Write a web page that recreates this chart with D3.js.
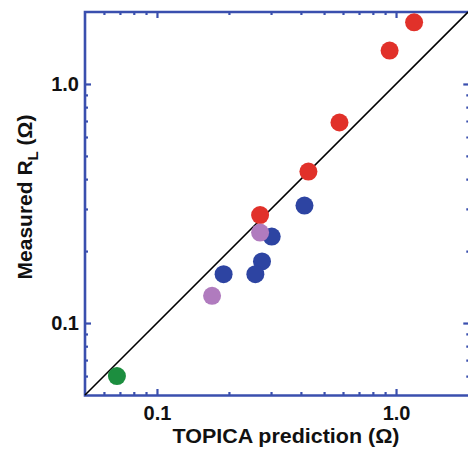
<!DOCTYPE html>
<html lang="en">
<head>
    <meta charset="UTF-8"/>
    <title>Measured vs TOPICA</title>
    <script src="https://d3js.org/d3.v7.min.js"></script>
    <style>
        body { margin: 0; background: #fff; }
        text { font-family: "Liberation Sans", Arial, sans-serif; font-weight: bold; fill: #111; }
    </style>
</head>
<body>
<script>
    // data (ohm)
    var redX = [1.19, 0.94, 0.58, 0.43, 0.27];
    var redY = [1.81, 1.38, 0.69, 0.43, 0.283];
    var blueX = [0.414, 0.302, 0.275, 0.258, 0.190];
    var blueY = [0.310, 0.230, 0.181, 0.160, 0.160];
    var purpleX = [0.270, 0.170];
    var purpleY = [0.239, 0.130];
    var greenX = [0.068];
    var greenY = [0.060];

    var majorTicks = [0.1, 1.0];
    var minorTicks = [0.06, 0.07, 0.08, 0.09, 0.2, 0.3, 0.4, 0.5, 0.6, 0.7, 0.8, 0.9];
    var tickLabels = ["0.1", "1.0"];

    var W = 468, H = 452;
    var pL = 85, pR = 468, pT = 12, pB = 395, spineR = 470.8;
    var axisColor = "#3a4fae";

    var x = d3.scaleLog().domain([0.05, 2]).range([pL, pR]);
    var y = d3.scaleLog().domain([0.05, 2]).range([pB, pT]);

    var svg = d3.select("body").append("svg")
        .attr("width", W)
        .attr("height", H);

    var fmt = function (d) { return tickLabels[majorTicks.indexOf(d)]; };

    function ticks(axisFn, scale, tr, labels, pad, extra) {
        var gMin = svg.append("g").attr("transform", tr)
            .call(axisFn(scale).tickValues(minorTicks).tickSize(-3 - extra).tickFormat(""));
        var gMaj = svg.append("g").attr("transform", tr)
            .call(axisFn(scale).tickValues(majorTicks).tickSize(-6 - extra)
                .tickPadding(pad)
                .tickFormat(labels ? fmt : ""));
        [gMin, gMaj].forEach(function (g) {
            g.select(".domain").remove();
            g.selectAll("line").attr("stroke", axisColor).attr("stroke-width", 2.2);
            g.selectAll("text").attr("font-size", 20).attr("font-family", null).attr("fill", null);
        });
    }

    ticks(d3.axisBottom, x, "translate(0," + pB + ")", true, 11, 0);
    ticks(d3.axisTop, x, "translate(0," + pT + ")", false, 0, 0);
    ticks(d3.axisLeft, y, "translate(" + pL + ",0)", true, 6, 0);
    ticks(d3.axisRight, y, "translate(" + spineR + ",0)", false, 0, 1.5);

    // spines (right one sits just past the picture edge)
    svg.append("path")
        .attr("d", "M" + pL + "," + (pB + 0.5) + "V" + pT + "H" + spineR + "V" + (pB + 0.5) + "Z")
        .attr("fill", "none")
        .attr("stroke", axisColor)
        .attr("stroke-width", 2.6);

    // 1:1 line
    svg.append("line")
        .attr("x1", x(0.05)).attr("y1", y(0.05))
        .attr("x2", x(2)).attr("y2", y(2))
        .attr("stroke", "#000")
        .attr("stroke-width", 1.6);

    function dots(xs, ys, color) {
        svg.append("g").selectAll("circle")
            .data(xs)
            .enter().append("circle")
            .attr("cx", function (d) { return x(d); })
            .attr("cy", function (d, i) { return y(ys[i]); })
            .attr("r", 9)
            .attr("fill", color);
    }
    dots(redX, redY, "#e1312a");
    dots(blueX, blueY, "#2d44a2");
    dots(purpleX, purpleY, "#b07bbe");
    dots(greenX, greenY, "#1c8e3f");

    // axis titles
    svg.append("text")
        .attr("x", 286).attr("y", 443)
        .attr("text-anchor", "middle")
        .attr("font-size", 21)
        .attr("textLength", 227)
        .attr("lengthAdjust", "spacingAndGlyphs")
        .text("TOPICA prediction (\u03A9)");

    var yt = svg.append("text")
        .attr("transform", "translate(32,197) rotate(-90)")
        .attr("text-anchor", "middle")
        .attr("font-size", 21);
    yt.append("tspan").text("Measured R");
    yt.append("tspan").attr("font-size", 15).attr("dy", 6).text("L");
    yt.append("tspan").attr("dy", -6).text(" (\u03A9)");
</script>
</body>
</html>
